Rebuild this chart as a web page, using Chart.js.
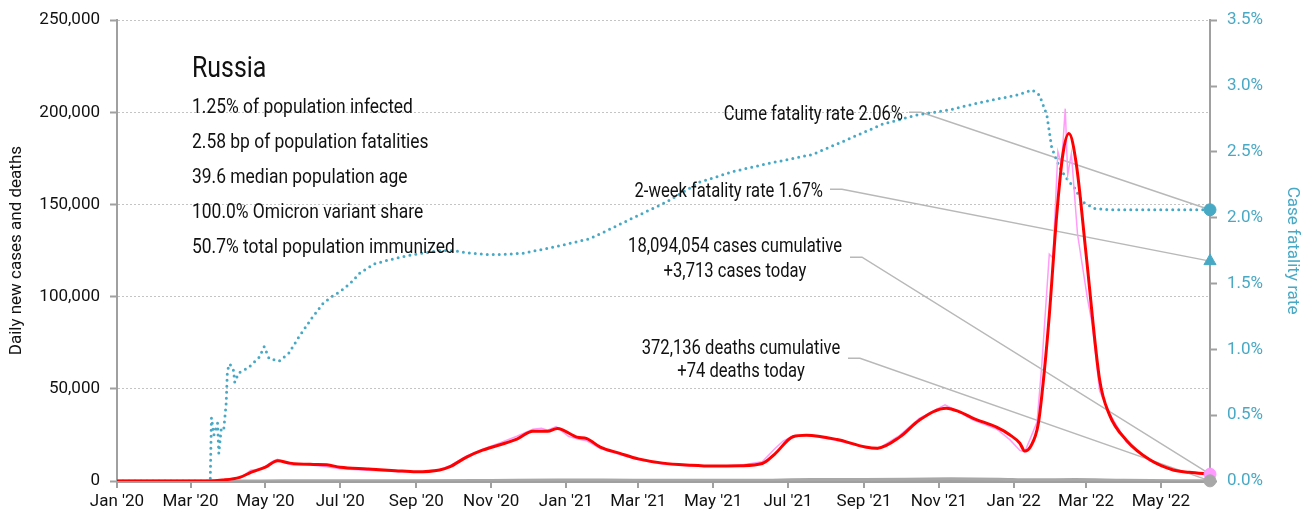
<!DOCTYPE html>
<html>
<head>
<meta charset="utf-8">
<title>Russia COVID-19</title>
<script src="https://cdn.jsdelivr.net/npm/chart.js@4.4.0/dist/chart.umd.min.js"></script>
<style>
  html, body { margin: 0; padding: 0; background: #fff; }
  #wrap { width: 1312px; height: 520px; }
</style>
</head>
<body>
<div id="wrap"><canvas id="chart" width="1312" height="520"></canvas></div>
<script>
// Serie de casos: promedio de 7 días
const avgDates = ['2020-01-01', '2020-03-15', '2020-03-27', '2020-04-10', '2020-04-20', '2020-05-01', '2020-05-11',
  '2020-05-21', '2020-06-09', '2020-06-20', '2020-07-01', '2020-07-23', '2020-08-15', '2020-09-01', '2020-09-20',
  '2020-09-28', '2020-10-12', '2020-10-25', '2020-11-22', '2020-12-05', '2020-12-17', '2020-12-25', '2021-01-10',
  '2021-01-18', '2021-01-29', '2021-02-14', '2021-03-01', '2021-03-21', '2021-04-12', '2021-05-01', '2021-05-23',
  '2021-06-10', '2021-06-20', '2021-07-05', '2021-07-16', '2021-08-10', '2021-09-02', '2021-09-12', '2021-09-30',
  '2021-10-16', '2021-11-07', '2021-11-18', '2021-11-29', '2021-12-18', '2021-12-29', '2022-01-06', '2022-01-10',
  '2022-01-15', '2022-01-21', '2022-01-26', '2022-01-30', '2022-02-05', '2022-02-10', '2022-02-15', '2022-02-21',
  '2022-03-01', '2022-03-12', '2022-03-20', '2022-04-03', '2022-04-22', '2022-05-11', '2022-05-24', '2022-06-10'];
const avgCases = [0, 0, 500, 2000, 4900, 7500, 11000,
  9700, 9000, 8800, 7400, 6500, 5600, 5000, 6000,
  7600, 13000, 16700, 22700, 27000, 27000, 28500, 23800,
  23000, 18400, 15000, 12000, 9700, 8600, 8100, 8300,
  9500, 14500, 24000, 24800, 22500, 18500, 17800, 23800,
  33000, 39500, 37500, 34000, 29200, 25000, 20500, 16300,
  19000, 31000, 60000, 90000, 144000, 177000, 188500, 172000,
  123000, 55000, 36000, 22000, 11500, 6000, 4700, 3700];

// Casos diarios (sin suavizar)
const dailyDates = ['2020-01-01', '2020-03-15', '2020-03-27', '2020-04-05', '2020-04-12', '2020-04-19', '2020-04-26',
  '2020-05-01', '2020-05-07', '2020-05-11', '2020-05-17', '2020-05-24', '2020-06-09', '2020-06-20', '2020-07-01',
  '2020-07-23', '2020-08-15', '2020-09-01', '2020-09-20', '2020-09-28', '2020-10-12', '2020-10-25', '2020-11-08',
  '2020-11-22', '2020-12-05', '2020-12-12', '2020-12-17', '2020-12-24', '2021-01-03', '2021-01-10', '2021-01-18',
  '2021-01-29', '2021-02-14', '2021-03-01', '2021-03-21', '2021-04-12', '2021-05-01', '2021-05-23', '2021-06-10',
  '2021-06-20', '2021-06-27', '2021-07-05', '2021-07-16', '2021-08-10', '2021-09-02', '2021-09-12', '2021-09-30',
  '2021-10-16', '2021-11-06', '2021-11-18', '2021-11-29', '2021-12-18', '2021-12-29', '2022-01-06', '2022-01-10',
  '2022-01-15', '2022-01-20', '2022-01-24', '2022-01-30', '2022-02-02', '2022-02-06', '2022-02-09', '2022-02-12',
  '2022-02-14', '2022-02-17', '2022-02-22', '2022-03-02', '2022-03-06', '2022-03-12', '2022-03-20', '2022-04-03',
  '2022-04-22', '2022-05-11', '2022-05-24', '2022-06-10'];
const dailyCases = [0, 0, 270, 950, 2200, 5900, 6400,
  7900, 10800, 11700, 9700, 8600, 8600, 7700, 6600,
  5800, 5100, 4700, 6200, 8100, 13600, 17300, 20600,
  24300, 28100, 28600, 27500, 29500, 24200, 22900, 21800,
  17600, 14400, 11500, 9100, 8300, 8000, 8500, 10400,
  17400, 21700, 24400, 25100, 21900, 18200, 17300, 24800,
  34000, 41300, 37300, 33000, 28200, 22300, 16600, 15800,
  23800, 32000, 64000, 123000, 121000, 178700, 171700, 202000,
  166000, 177700, 134000, 99400, 85000, 49000, 36700, 21000,
  11000, 5700, 4300, 3713];

// Muertes diarias (promedio)
const deathDates = ['2020-01-01', '2020-04-01', '2020-05-15', '2020-07-01', '2020-09-01', '2020-11-01', '2020-12-25',
  '2021-02-01', '2021-04-01', '2021-06-01', '2021-07-20', '2021-09-01', '2021-11-10', '2021-12-20', '2022-01-15',
  '2022-02-20', '2022-04-01', '2022-05-15', '2022-06-10'];
const deathValues = [0, 5, 100, 150, 110, 300, 560,
  500, 380, 370, 780, 790, 1220, 1000, 680,
  750, 350, 130, 74];

// Tasa de letalidad acumulada (%)
const cfrDates = ['2020-01-01', '2020-03-17', '2020-03-18', '2020-03-20', '2020-03-23', '2020-03-24', '2020-03-26',
  '2020-03-28', '2020-03-30', '2020-03-31', '2020-04-02', '2020-04-05', '2020-04-06', '2020-04-09', '2020-04-17',
  '2020-04-26', '2020-04-30', '2020-05-04', '2020-05-12', '2020-05-20', '2020-05-28', '2020-06-08', '2020-06-17',
  '2020-06-24', '2020-07-01', '2020-07-09', '2020-07-17', '2020-07-29', '2020-08-10', '2020-08-24', '2020-09-06',
  '2020-09-20', '2020-10-01', '2020-10-15', '2020-10-29', '2020-11-10', '2020-11-27', '2020-12-13', '2021-01-02',
  '2021-01-20', '2021-02-03', '2021-02-25', '2021-03-24', '2021-04-20', '2021-05-17', '2021-06-14', '2021-07-21',
  '2021-08-20', '2021-09-16', '2021-10-14', '2021-11-10', '2021-12-07', '2022-01-03', '2022-01-16', '2022-01-22',
  '2022-01-28', '2022-02-01', '2022-02-08', '2022-02-13', '2022-02-20', '2022-02-26', '2022-03-08', '2022-03-20',
  '2022-06-10'];
const cfrValues = [0, 0, 0.48, 0.35, 0.44, 0.21, 0.40,
  0.39, 0.59, 0.84, 0.89, 0.84, 0.75, 0.82, 0.86,
  0.94, 1.02, 0.93, 0.91, 0.97, 1.09, 1.24, 1.35,
  1.40, 1.44, 1.50, 1.58, 1.65, 1.68, 1.71, 1.73,
  1.75, 1.75, 1.73, 1.72, 1.72, 1.73, 1.76, 1.80,
  1.84, 1.90, 2.00, 2.12, 2.27, 2.35, 2.41, 2.48,
  2.60, 2.71, 2.78, 2.82, 2.88, 2.93, 2.97, 2.93,
  2.78, 2.53, 2.37, 2.30, 2.22, 2.12, 2.07, 2.06,
  2.06];

// Valores del último día
const reportDate = '2022-06-10';
const cumeFatalityRate = 2.06;
const twoWeekFatalityRate = 1.67;
const casesToday = 3713;
const deathsToday = 74;
const casesCumulative = 18094054;
const deathsCumulative = 372136;

// Ejes
const tickDates = ['2020-01-01', '2020-03-01', '2020-05-01', '2020-07-01', '2020-09-01', '2020-11-01', '2021-01-01',
  '2021-03-01', '2021-05-01', '2021-07-01', '2021-09-01', '2021-11-01', '2022-01-01', '2022-03-01', '2022-05-01'];
const tickLabels = ["Jan '20", "Mar '20", "May '20", "Jul '20", "Sep '20", "Nov '20", "Jan '21",
  "Mar '21", "May '21", "Jul '21", "Sep '21", "Nov '21", "Jan '22", "Mar '22", "May '22"];
const caseTicks = [0, 50000, 100000, 150000, 200000, 250000];
const rateTicks = [0, 0.5, 1, 1.5, 2, 2.5, 3, 3.5];

const countryName = 'Russia';
const statLines = ['1.25% of population infected', '2.58 bp of population fatalities', '39.6 median population age',
  '100.0% Omicron variant share', '50.7% total population immunized'];

const FONT = "Roboto, 'Liberation Sans', sans-serif";
const TEAL = '#48a9c5';
const AXIS = '#a0a0a0';
const LEADER = '#b8b8b8';
const NARROW = 0.83; // compresión horizontal del texto de las notas

// Días desde el 1 de enero de 2020
const day0 = Date.parse('2020-01-01');
function toDay(d) {
  return (Date.parse(d) - day0) / 86400000;
}
function toPoints(dates, values) {
  return dates.map((d, i) => ({ x: toDay(d), y: values[i] }));
}
const lastDay = toDay(reportDate);
const tickDays = tickDates.map(toDay);

// Texto estrecho: escala horizontal sobre el punto de anclaje
function narrowText(ctx, text, x, y, align, size) {
  ctx.save();
  ctx.translate(x, y);
  ctx.scale(NARROW, 1);
  ctx.font = size + 'px ' + FONT;
  ctx.textAlign = align;
  ctx.fillText(text, 0, 0);
  ctx.restore();
}

// Textos y líneas guía
const notesPlugin = {
  id: 'notes',
  beforeDatasetsDraw(chart) {
    const { ctx, chartArea: a, scales } = chart;
    const xEnd = scales.x.getPixelForValue(lastDay);
    const leaders = [
      { x: a.left + 792, y: a.top + 92, ty: scales.yRate.getPixelForValue(cumeFatalityRate) },
      { x: a.left + 713, y: a.top + 169, ty: scales.yRate.getPixelForValue(twoWeekFatalityRate) },
      { x: a.left + 733, y: a.top + 237, ty: scales.yCases.getPixelForValue(casesToday) },
      { x: a.left + 731, y: a.top + 338, ty: scales.yCases.getPixelForValue(deathsToday) }
    ];
    ctx.save();
    ctx.strokeStyle = LEADER;
    ctx.lineWidth = 1.5;
    leaders.forEach(l => {
      ctx.beginPath();
      ctx.moveTo(l.x, l.y);
      ctx.lineTo(l.x + 12, l.y);
      ctx.lineTo(xEnd, l.ty);
      ctx.stroke();
    });
    ctx.restore();
  },
  afterDatasetsDraw(chart) {
    const { ctx, chartArea: a } = chart;
    ctx.save();
    ctx.fillStyle = '#111';
    ctx.textBaseline = 'alphabetic';

    // Bloque de datos del país
    narrowText(ctx, countryName, a.left + 75, a.top + 57, 'left', 30);
    statLines.forEach((t, i) => narrowText(ctx, t, a.left + 75, a.top + 93 + i * 35, 'left', 21));

    // Notas de la derecha
    narrowText(ctx, 'Cume fatality rate ' + cumeFatalityRate.toFixed(2) + '%', a.left + 786, a.top + 100, 'right', 20);
    narrowText(ctx, '2-week fatality rate ' + twoWeekFatalityRate.toFixed(2) + '%', a.left + 706, a.top + 177, 'right', 20);
    narrowText(ctx, casesCumulative.toLocaleString('en-US') + ' cases cumulative', a.left + 618, a.top + 232, 'center', 20);
    narrowText(ctx, '+' + casesToday.toLocaleString('en-US') + ' cases today', a.left + 618, a.top + 257, 'center', 20);
    narrowText(ctx, deathsCumulative.toLocaleString('en-US') + ' deaths cumulative', a.left + 624, a.top + 334, 'center', 20);
    narrowText(ctx, '+' + deathsToday.toLocaleString('en-US') + ' deaths today', a.left + 624, a.top + 357, 'center', 20);
    ctx.restore();
  }
};

const chart = new Chart(document.getElementById('chart'), {
  type: 'line',
  data: {
    datasets: [
      {
        // marcadores del último día
        label: 'cume', data: [{ x: lastDay, y: cumeFatalityRate }], yAxisID: 'yRate',
        showLine: false, pointRadius: 6, pointStyle: 'circle', backgroundColor: TEAL, borderColor: TEAL,
        clip: false, order: 0
      },
      {
        label: '2-week', data: [{ x: lastDay, y: twoWeekFatalityRate }], yAxisID: 'yRate',
        showLine: false, pointRadius: 7, pointStyle: 'triangle', backgroundColor: TEAL, borderColor: TEAL,
        clip: false, order: 0
      },
      {
        label: 'cases today', data: [{ x: lastDay, y: casesToday }], yAxisID: 'yCases',
        showLine: false, pointRadius: 6, backgroundColor: '#ff99ff', borderColor: '#ff99ff',
        clip: false, order: 1
      },
      {
        label: 'deaths today', data: [{ x: lastDay, y: deathsToday }], yAxisID: 'yCases',
        showLine: false, pointRadius: 6, backgroundColor: '#a8a8a8', borderColor: '#a8a8a8',
        clip: false, order: 0
      },
      {
        label: 'Case fatality rate', data: toPoints(cfrDates, cfrValues), yAxisID: 'yRate',
        borderColor: TEAL, borderWidth: 3, borderDash: [0, 6], borderCapStyle: 'round',
        pointRadius: 0, tension: 0, order: 5
      },
      {
        label: '7-day average', data: toPoints(avgDates, avgCases), yAxisID: 'yCases',
        borderColor: '#ff0000', borderWidth: 3, pointRadius: 0, cubicInterpolationMode: 'monotone', order: 2
      },
      {
        label: 'Daily cases', data: toPoints(dailyDates, dailyCases), yAxisID: 'yCases',
        borderColor: '#ff9cf8', borderWidth: 1.5, pointRadius: 0, tension: 0, order: 3
      },
      {
        label: 'Daily deaths', data: toPoints(deathDates, deathValues), yAxisID: 'yCases',
        borderColor: '#a8a8a8', borderWidth: 3, pointRadius: 0, cubicInterpolationMode: 'monotone', order: 4
      }
    ]
  },
  options: {
    responsive: false,
    animation: false,
    devicePixelRatio: 1,
    layout: { padding: { top: 18 } },
    font: { family: FONT },
    plugins: { legend: { display: false }, tooltip: { enabled: false } },
    scales: {
      x: {
        type: 'linear',
        min: 0,
        max: lastDay,
        afterBuildTicks: scale => { scale.ticks = tickDays.map(v => ({ value: v })); },
        afterFit: scale => { scale.height = 39; },
        ticks: {
          callback: (v, i) => tickLabels[i],
          color: '#111', font: { family: FONT, size: 17 }, padding: 4, maxRotation: 0, autoSkip: false
        },
        grid: { drawOnChartArea: false, tickLength: 7, tickColor: AXIS, lineWidth: 2 },
        border: { color: AXIS, width: 3 }
      },
      yCases: {
        position: 'left',
        min: 0,
        max: 250000,
        afterBuildTicks: scale => { scale.ticks = caseTicks.map(v => ({ value: v })); },
        afterFit: scale => { scale.width = 117; },
        ticks: {
          callback: v => v.toLocaleString('en-US'),
          color: '#111', font: { family: FONT, size: 17 }, padding: 10
        },
        grid: { color: '#c4c4c4', lineWidth: 1, tickLength: 7, tickColor: AXIS, tickWidth: 2, tickBorderDash: [] },
        border: { color: AXIS, width: 2, dash: [2, 2] },
        title: {
          display: true, text: 'Daily new cases and deaths', color: '#111',
          font: { family: FONT, size: 17 }, padding: { top: 7, bottom: 0 }
        }
      },
      yRate: {
        position: 'right',
        min: 0,
        max: 3.5,
        afterBuildTicks: scale => { scale.ticks = rateTicks.map(v => ({ value: v })); },
        afterFit: scale => { scale.width = 102; },
        ticks: {
          callback: v => v.toFixed(1) + '%',
          color: TEAL, font: { family: FONT, size: 17 }, padding: 10
        },
        grid: { drawOnChartArea: false, tickLength: 7, tickColor: AXIS, tickWidth: 2 },
        border: { color: AXIS, width: 2 },
        title: {
          display: true, text: 'Case fatality rate', color: TEAL,
          font: { family: FONT, size: 17 }, padding: { top: 10, bottom: 0 }
        }
      }
    }
  },
  plugins: [notesPlugin]
});
</script>
</body>
</html>
